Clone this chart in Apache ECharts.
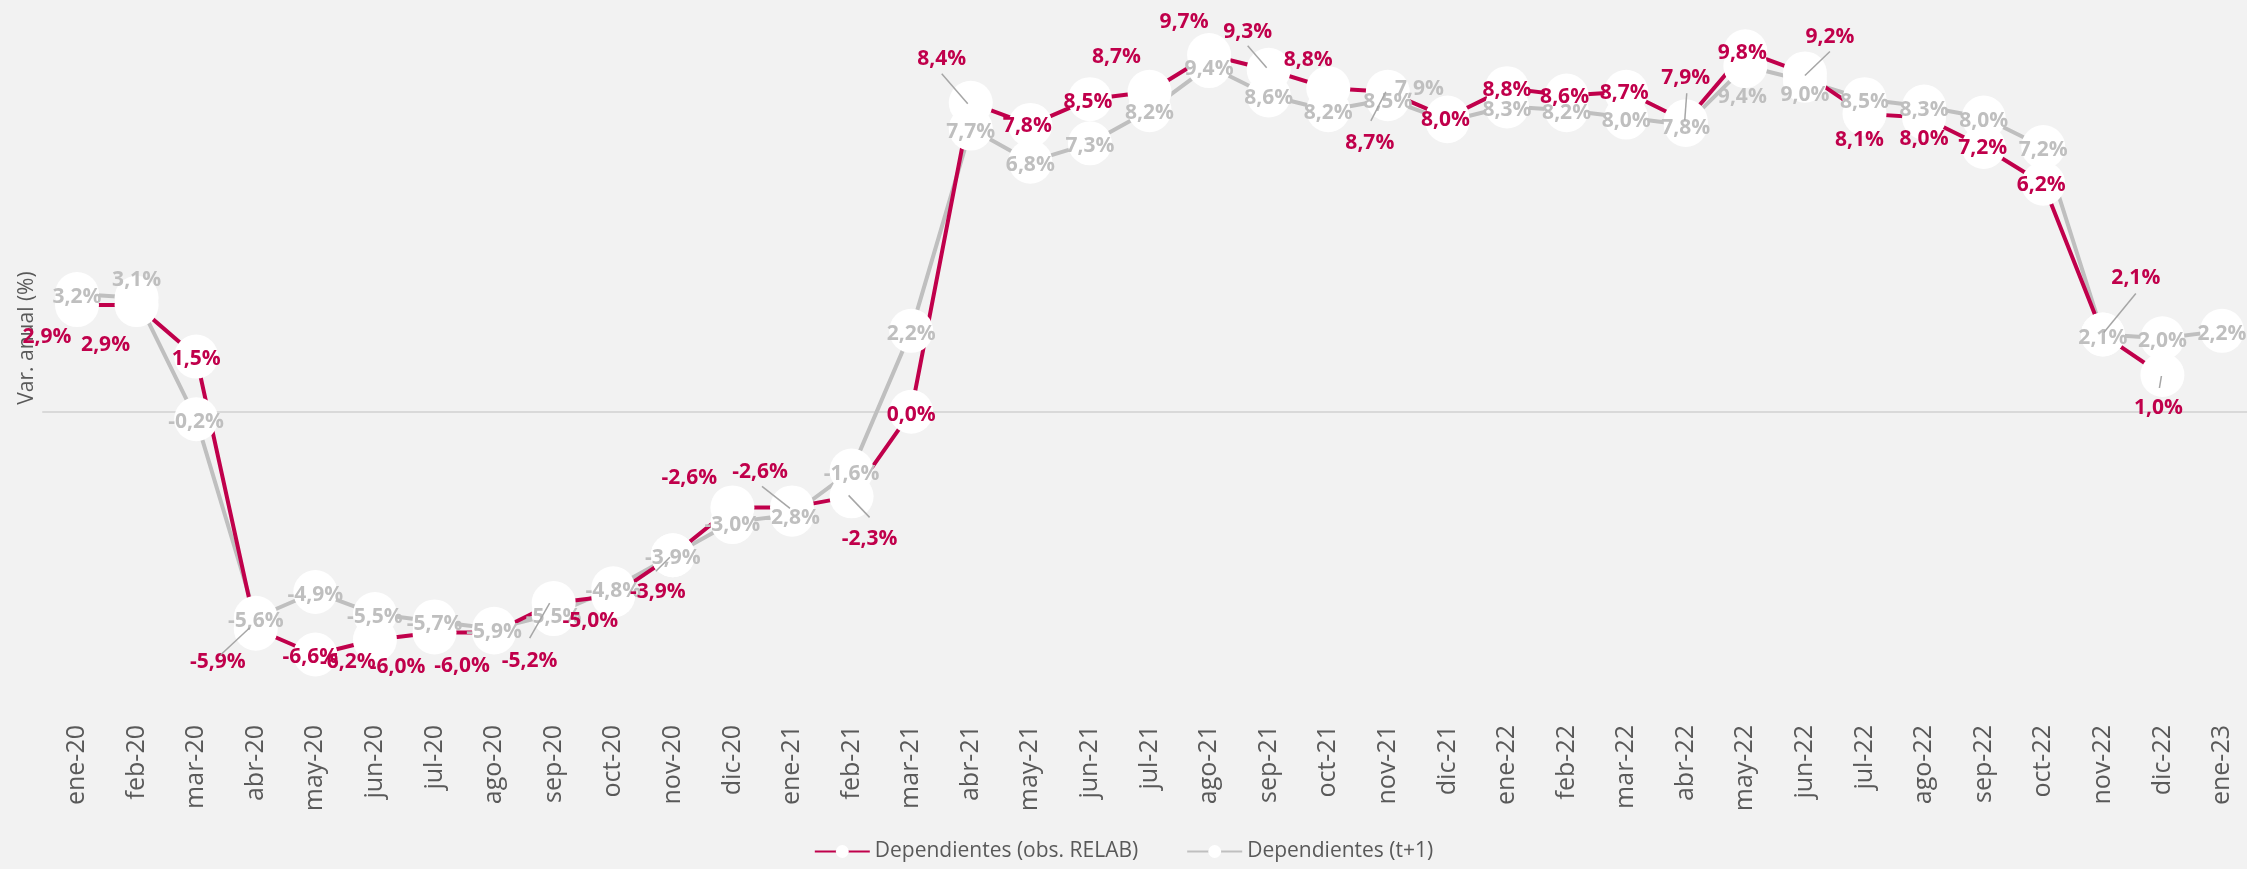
<!DOCTYPE html>
<html>
<head>
<meta charset="utf-8">
<style>
  html, body { margin: 0; padding: 0; background: #F2F2F2; }
  #chart { width: 2247px; height: 869px; }
</style>
<script src="https://cdn.jsdelivr.net/npm/echarts@6/dist/echarts.min.js"></script>
</head>
<body>
<div id="chart"></div>
<script>
// ---------- DATA ----------
const categories = ['ene-20','feb-20','mar-20','abr-20','may-20','jun-20','jul-20','ago-20','sep-20','oct-20','nov-20','dic-20',
  'ene-21','feb-21','mar-21','abr-21','may-21','jun-21','jul-21','ago-21','sep-21','oct-21','nov-21','dic-21',
  'ene-22','feb-22','mar-22','abr-22','may-22','jun-22','jul-22','ago-22','sep-22','oct-22','nov-22','dic-22','ene-23'];

const seriesNames = ['Dependientes (obs. RELAB)', 'Dependientes (t+1)'];

const obsRelab = [2.9, 2.9, 1.5, -5.9, -6.6, -6.2, -6.0, -6.0, -5.2, -5.0, -3.9, -2.6,
  -2.6, -2.3, 0.0, 8.4, 7.8, 8.5, 8.7, 9.7, 9.3, 8.8, 8.7, 8.0,
  8.8, 8.6, 8.7, 7.9, 9.8, 9.2, 8.1, 8.0, 7.2, 6.2, 2.1, 1.0, null];

const tPlus1 = [3.2, 3.1, -0.2, -5.6, -4.9, -5.5, -5.7, -5.9, -5.5, -4.8, -3.9, -3.0,
  -2.8, -1.6, 2.2, 7.7, 6.8, 7.3, 8.2, 9.4, 8.6, 8.2, 8.5, 7.9,
  8.3, 8.2, 8.0, 7.8, 9.4, 9.0, 8.5, 8.3, 8.0, 7.2, 2.1, 2.0, 2.2];

// ---------- STYLE (label placement in pixels, relative to point) ----------
const redLabelOffsets = [
  [-30,32],[-31,40],[0,2],[-38,33],[-5,3],[-27,22],[-37,35],[-32,34],[-24,58],[-23,25],[-15,37],[-43,-29],
  [-32,-35],[18,43],[0,3],[-29,-44],[-3,1],[-2,3],[-33,-35],[-25,-33],[-21,-38],[-20,-28],[-18,51],[-2,2],
  [0,2],[-2,2],[-2,1],[0,-43],[-3,2],[25,-36],[-5,26],[0,21],[-1,1],[-2,1],[33,-57],[-4,33],[0,0]];
const greyLabelOffsets = categories.map(() => [0, 3]);
greyLabelOffsets[1] = [0, -18];
greyLabelOffsets[23] = [-28, -32];
greyLabelOffsets[28] = [-3, 31];
greyLabelOffsets[29] = [0, 14];

// leader lines for red labels: [index, x1, y1, x2, y2] relative to the point
const leaders = [
  [3, -35, 26, -6, -1], [8, -24, 35, -4, 0], [10, -17, 16, -3, 2], [12, -30, -21, -2, 1],
  [13, -3, -1, 18, 21], [15, -29, -29, -3, 1], [20, -21, -24, -2, -2], [22, -17, 29, -2, 0],
  [27, 1, -28, -1, -1], [29, 25, -22, 0, 2], [34, 33, -41, 1, -2], [35, -1, 1, -3, 13]
];

const RED = '#C0004B';
const GREY = '#BFBFBF';
const fmt = v => v.toFixed(1).replace('.', ',') + '%';

const chart = echarts.init(document.getElementById('chart'), null, { renderer: 'canvas' });

const labelFont = { fontFamily: 'Open Sans', fontSize: 21, fontWeight: 'bold' };

const option = {
  animation: false,
  backgroundColor: '#F2F2F2',
  grid: [
    { left: 77, right: 25, top: 44, bottom: 163 },
    { left: 43, right: 0, top: 44, bottom: 163 }
  ],
  xAxis: [
    {
      type: 'category', data: categories, boundaryGap: false, gridIndex: 0,
      axisLine: { show: false }, axisTick: { show: false }, splitLine: { show: false },
      axisLabel: { interval: 0, rotate: 90, margin: 19, color: '#595959', fontFamily: 'Open Sans', fontSize: 25 }
    },
    {
      type: 'value', gridIndex: 1, min: 0, max: 1,
      axisLine: { show: true, onZero: true, lineStyle: { color: '#D9D9D9', width: 2 } },
      axisTick: { show: false }, axisLabel: { show: false }, splitLine: { show: false }
    }
  ],
  yAxis: [
    { type: 'value', min: -8, max: 10, gridIndex: 0, show: false },
    { type: 'value', min: -8, max: 10, gridIndex: 1, show: false }
  ],
  legend: {
    data: [seriesNames[0], seriesNames[1]],
    bottom: 2, left: 'center',
    itemWidth: 55, itemHeight: 16, itemGap: 48,
    textStyle: { color: '#595959', fontFamily: 'Open Sans', fontSize: 21 }
  },
  graphic: [{
    type: 'text', x: 27, y: 338, rotation: Math.PI / 2,
    style: { text: 'Var. anual (%)', fill: '#595959', font: '21px "Open Sans"', textAlign: 'center', textVerticalAlign: 'middle' }
  }],
  series: [
    {
      name: seriesNames[1], type: 'line', xAxisIndex: 0, yAxisIndex: 0,
      showAllSymbol: true, symbol: 'circle', symbolSize: 44,
      itemStyle: { color: '#FFFFFF', borderWidth: 0 },
      lineStyle: { color: GREY, width: 4 },
      data: tPlus1.map((v, i) => ({ value: v, label: { offset: greyLabelOffsets[i] } })),
      label: { show: true, position: 'inside', color: GREY, ...labelFont, formatter: p => fmt(p.value) },
      emphasis: { disabled: true }
    },
    {
      name: seriesNames[0], type: 'line', xAxisIndex: 0, yAxisIndex: 0,
      showAllSymbol: true, symbol: 'circle', symbolSize: 44,
      itemStyle: { color: '#FFFFFF', borderWidth: 0 },
      lineStyle: { color: RED, width: 4 },
      data: obsRelab.map((v, i) => ({ value: v, label: { offset: redLabelOffsets[i] } })),
      label: { show: true, position: 'inside', color: RED, ...labelFont, formatter: p => fmt(p.value) },
      emphasis: { disabled: true }
    },
    {
      name: 'leaders', type: 'custom', coordinateSystem: 'cartesian2d', xAxisIndex: 0, yAxisIndex: 0,
      silent: true, z: 5,
      data: leaders.map(l => [l[0], obsRelab[l[0]]]),
      renderItem: (params, api) => {
        const p = api.coord([api.value(0), api.value(1)]);
        const l = leaders[params.dataIndex];
        return {
          type: 'line',
          shape: { x1: p[0] + l[1], y1: p[1] + l[2], x2: p[0] + l[3], y2: p[1] + l[4] },
          style: { stroke: '#A6A6A6', lineWidth: 1.5 }
        };
      }
    }
  ]
};

chart.setOption(option);
</script>
</body>
</html>
